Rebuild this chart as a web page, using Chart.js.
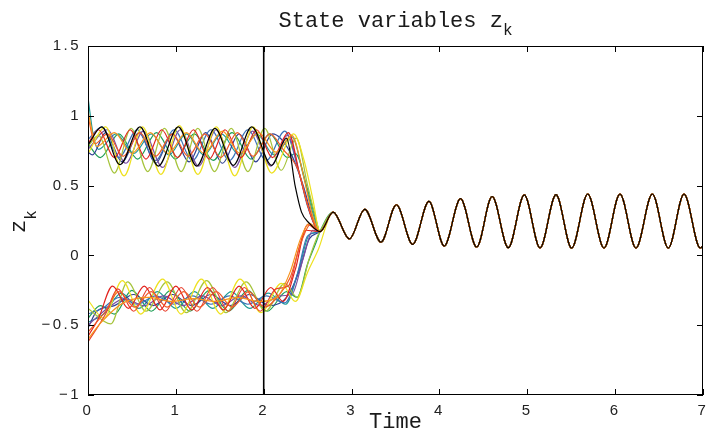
<!DOCTYPE html>
<html>
<head>
<meta charset="utf-8">
<script src="https://cdn.jsdelivr.net/npm/chart.js@4.4.1/dist/chart.umd.min.js"></script>
<style>
html,body{margin:0;padding:0;background:#fff}
</style>
</head>
<body>
<canvas id="myChart" width="706" height="436"></canvas>
<script>
// values, [time, z]
// common part once all the states have synchronised
var tailPts = [[2.79,0.31],[2.975,0.118],[3.15,0.33],[3.335,0.095],[3.51,0.363],[3.696,0.079],[3.88,0.387],[4.055,0.067],[4.24,0.406],[4.424,0.06],[4.6,0.422],[4.784,0.055],[4.966,0.433],[5.145,0.053],[5.327,0.435],[5.505,0.052],[5.688,0.44],[5.873,0.052],[6.055,0.44],[6.237,0.052],[6.423,0.44],[6.605,0.052],[6.784,0.44],[6.968,0.053],[7.0,0.07]]

// upper group
var zUpBlack = [[0,0.79],[0.156,0.92],[0.364,0.65],[0.592,0.92],[0.8,0.64],[1.028,0.92],[1.237,0.64],[1.445,0.91],[1.654,0.645],[1.863,0.92],[2.09,0.645],[2.26,0.84],[2.36,0.49],[2.43,0.31],[2.52,0.23],[2.64,0.17]]
var zUpPurple = [[0,0.76],[0.22,0.9],[0.43,0.66],[0.63,0.89],[0.85,0.63],[1.05,0.9],[1.26,0.64],[1.46,0.9],[1.67,0.63],[1.87,0.89],[2.08,0.64],[2.27,0.86],[2.42,0.55],[2.53,0.3],[2.64,0.17]]
var zUpNavy = [[0,0.74],[0.05,0.72],[0.2,0.88],[0.39,0.67],[0.58,0.88],[0.77,0.66],[0.96,0.87],[1.15,0.67],[1.34,0.88],[1.53,0.66],[1.72,0.87],[1.91,0.67],[2.1,0.87],[2.3,0.74],[2.45,0.5],[2.56,0.26],[2.64,0.17]]
var zUpRed = [[0,0.8],[0.12,0.9],[0.3,0.7],[0.48,0.9],[0.66,0.69],[0.84,0.9],[1.02,0.7],[1.2,0.9],[1.38,0.69],[1.56,0.9],[1.74,0.7],[1.92,0.9],[2.1,0.7],[2.28,0.88],[2.42,0.55],[2.53,0.3],[2.64,0.17]]
var zUpVermil = [[0,1.0],[0.08,0.8],[0.22,0.87],[0.4,0.71],[0.59,0.88],[0.77,0.71],[0.96,0.87],[1.14,0.71],[1.33,0.87],[1.51,0.7],[1.7,0.88],[1.88,0.71],[2.07,0.87],[2.22,0.76],[2.4,0.6],[2.5,0.36],[2.64,0.17]]
var zUpOrange = [[0,1.03],[0.1,0.78],[0.3,0.88],[0.5,0.73],[0.71,0.88],[0.91,0.73],[1.12,0.88],[1.32,0.73],[1.53,0.89],[1.73,0.73],[1.94,0.88],[2.14,0.74],[2.32,0.86],[2.45,0.58],[2.55,0.3],[2.64,0.17]]
var zUpYellow = [[0,0.73],[0.2,0.92],[0.41,0.57],[0.62,0.92],[0.83,0.58],[1.04,0.93],[1.25,0.58],[1.46,0.92],[1.67,0.57],[1.88,0.92],[2.09,0.59],[2.34,0.87],[2.46,0.68],[2.56,0.4],[2.64,0.17]]
var zUpLime = [[0,0.78],[0.12,0.86],[0.3,0.59],[0.49,0.91],[0.68,0.6],[0.87,0.91],[1.06,0.6],[1.25,0.91],[1.44,0.6],[1.63,0.91],[1.82,0.6],[2.01,0.91],[2.2,0.61],[2.37,0.84],[2.5,0.5],[2.58,0.3],[2.64,0.17]]
var zUpGreen = [[0,0.8],[0.14,0.7],[0.35,0.87],[0.565,0.69],[0.78,0.88],[0.995,0.69],[1.21,0.87],[1.425,0.68],[1.64,0.88],[1.855,0.69],[2.07,0.87],[2.27,0.7],[2.36,0.73],[2.5,0.47],[2.6,0.24],[2.64,0.17]]
var zUpTeal = [[0,1.13],[0.06,0.86],[0.12,0.76],[0.32,0.87],[0.52,0.73],[0.72,0.87],[0.92,0.72],[1.12,0.87],[1.32,0.72],[1.52,0.87],[1.72,0.72],[1.92,0.87],[2.12,0.72],[2.32,0.85],[2.46,0.55],[2.56,0.3],[2.64,0.17]]
var zUpBlue = [[0,0.83],[0.16,0.92],[0.35,0.7],[0.56,0.9],[0.77,0.68],[0.98,0.9],[1.19,0.68],[1.4,0.9],[1.61,0.68],[1.82,0.9],[2.03,0.68],[2.24,0.89],[2.4,0.6],[2.5,0.35],[2.64,0.17]]

// lower group
var zLowOrange = [[0,-0.6],[0.15,-0.48],[0.4,-0.34],[0.7,-0.3],[0.95,-0.33],[1.2,-0.31],[1.45,-0.33],[1.7,-0.3],[1.95,-0.33],[2.15,-0.3],[2.3,-0.12],[2.42,0.12],[2.52,0.23],[2.64,0.17]]
var zLowYellow = [[0,-0.32],[0.18,-0.45],[0.39,-0.18],[0.6,-0.42],[0.85,-0.17],[1.06,-0.42],[1.29,-0.17],[1.51,-0.42],[1.73,-0.17],[1.97,-0.41],[2.2,-0.2],[2.36,-0.33],[2.5,-0.12],[2.62,0.04]]
var zLowLime = [[0,-0.38],[0.26,-0.49],[0.45,-0.19],[0.66,-0.4],[0.9,-0.19],[1.12,-0.41],[1.35,-0.18],[1.57,-0.41],[1.8,-0.19],[2.02,-0.4],[2.24,-0.2],[2.38,-0.3],[2.52,-0.02],[2.6,0.12],[2.64,0.17]]
var zLowRed = [[0,-0.58],[0.12,-0.45],[0.28,-0.22],[0.46,-0.38],[0.64,-0.22],[0.82,-0.39],[1.0,-0.22],[1.18,-0.39],[1.36,-0.23],[1.54,-0.39],[1.72,-0.22],[1.9,-0.38],[2.08,-0.23],[2.22,-0.33],[2.36,-0.1],[2.48,0.18],[2.64,0.17]]
var zLowVermil = [[0,-0.55],[0.2,-0.4],[0.35,-0.26],[0.53,-0.37],[0.72,-0.26],[0.9,-0.37],[1.09,-0.26],[1.27,-0.37],[1.46,-0.26],[1.64,-0.37],[1.83,-0.26],[2.01,-0.37],[2.18,-0.28],[2.3,-0.16],[2.43,0.1],[2.53,0.22],[2.64,0.17]]
var zLowPurple = [[0,-0.5],[0.22,-0.38],[0.42,-0.31],[0.64,-0.36],[0.86,-0.29],[1.08,-0.36],[1.3,-0.29],[1.52,-0.36],[1.74,-0.29],[1.96,-0.36],[2.18,-0.29],[2.32,-0.28],[2.45,-0.02],[2.56,0.18],[2.64,0.17]]
var zLowNavy = [[0,-0.52],[0.1,-0.4],[0.3,-0.36],[0.52,-0.28],[0.74,-0.36],[0.96,-0.28],[1.18,-0.36],[1.4,-0.28],[1.62,-0.36],[1.84,-0.28],[2.06,-0.36],[2.26,-0.3],[2.4,-0.12],[2.52,0.12],[2.64,0.17]]
var zLowGreen = [[0,-0.45],[0.14,-0.36],[0.3,-0.42],[0.5,-0.25],[0.72,-0.4],[0.94,-0.25],[1.16,-0.4],[1.38,-0.25],[1.6,-0.4],[1.82,-0.25],[2.04,-0.4],[2.26,-0.26],[2.38,-0.3],[2.5,-0.06],[2.6,0.1],[2.64,0.17]]
var zLowTeal = [[0,-0.48],[0.18,-0.42],[0.38,-0.27],[0.58,-0.38],[0.79,-0.26],[1.0,-0.38],[1.21,-0.26],[1.42,-0.38],[1.63,-0.26],[1.84,-0.38],[2.05,-0.27],[2.25,-0.35],[2.4,-0.1],[2.52,0.15],[2.64,0.17]]
var zLowBlue = [[0,-0.42],[0.16,-0.38],[0.36,-0.3],[0.56,-0.35],[0.77,-0.29],[0.98,-0.35],[1.19,-0.29],[1.4,-0.35],[1.61,-0.29],[1.82,-0.35],[2.03,-0.29],[2.24,-0.34],[2.38,-0.14],[2.5,0.14],[2.64,0.17]]
var zLowRed2 = [[0,-0.62],[0.2,-0.42],[0.34,-0.24],[0.52,-0.4],[0.7,-0.23],[0.88,-0.4],[1.06,-0.23],[1.24,-0.4],[1.42,-0.23],[1.6,-0.4],[1.78,-0.23],[1.96,-0.4],[2.14,-0.24],[2.28,-0.22],[2.4,0.05],[2.5,0.22],[2.64,0.17]]

var switchTime = 2
var zRange = [-1, 1.5]

// drawing order: first one at the bottom
var series = [
    [zLowGreen,'#1e9f56'],[zLowTeal,'#1a9a95'],[zLowNavy,'#2f3f92'],[zLowBlue,'#3a73b8'],[zLowPurple,'#7b4fa2'],
    [zLowLime,'#a6c43c'],[zLowYellow,'#eee11f'],[zLowRed2,'#e8412e'],[zLowRed,'#e2211c'],[zLowVermil,'#f05a28'],[zLowOrange,'#f7941d'],
    [zUpGreen,'#1e9f56'],[zUpTeal,'#1a9a95'],[zUpNavy,'#2f3f92'],[zUpBlue,'#3a73b8'],[zUpPurple,'#7b4fa2'],
    [zUpLime,'#a6c43c'],[zUpYellow,'#eee11f'],[zUpRed,'#e2211c'],[zUpVermil,'#f05a28'],[zUpOrange,'#f7941d'],
    [zUpBlack,'#000000']
]

function toXY(arr){
    return arr.map(function(p){ return {x:p[0], y:p[1]} })
}

var datasets = []
for(var i=0;i<series.length;i++){
    datasets.push({
        data: toXY(series[i][0].concat(tailPts)),
        borderColor: series[i][1],
        borderWidth: 1.2,
        order: series.length - i + 1
    })
}
// vertical marker
datasets.push({
    data: toXY([[switchTime,zRange[0]],[switchTime,zRange[1]]]),
    borderColor: '#000',
    borderWidth: 1.6,
    cubicInterpolationMode: 'default',
    tension: 0,
    order: 0
})

var matlabAxes = {
    id: 'matlabAxes',
    beforeDraw: function(chart){ chart.ctx.letterSpacing = '2.5px' },
    beforeDatasetsDraw: function(chart){ chart.ctx.letterSpacing = '0px' },
    afterDraw: function(chart){
        var ctx = chart.ctx, a = chart.chartArea
        var xs = chart.scales.x, ys = chart.scales.y
        ctx.save()
        ctx.letterSpacing = '0px'
        ctx.strokeStyle = '#000'
        ctx.lineWidth = 1
        ctx.strokeRect(Math.round(a.left)+0.5, Math.round(a.top)+0.5, Math.round(a.right-a.left)-1, Math.round(a.bottom-a.top)-1)
        ctx.beginPath()
        xs.ticks.forEach(function(t){
            var px = Math.round(xs.getPixelForValue(t.value)) + 0.5
            ctx.moveTo(px, a.bottom); ctx.lineTo(px, a.bottom-6)
            ctx.moveTo(px, a.top); ctx.lineTo(px, a.top+6)
        })
        ys.ticks.forEach(function(t){
            var py = Math.round(ys.getPixelForValue(t.value)) + 0.5
            ctx.moveTo(a.left, py); ctx.lineTo(a.left+6, py)
            ctx.moveTo(a.right, py); ctx.lineTo(a.right-6, py)
        })
        ctx.stroke()

        // title
        ctx.fillStyle = '#1a1a1a'
        ctx.textBaseline = 'alphabetic'
        ctx.textAlign = 'left'
        var cx = (a.left + a.right)/2
        ctx.font = '22px "Liberation Mono"'
        var main = 'State variables z'
        var w1 = ctx.measureText(main).width
        ctx.font = '16px "Liberation Mono"'
        var w2 = ctx.measureText('k').width
        var x0 = cx - (w1 + w2)/2
        ctx.font = '22px "Liberation Mono"'
        ctx.fillText(main, x0, 27)
        ctx.font = '16px "Liberation Mono"'
        ctx.fillText('k', x0 + w1, 35)

        // x label
        ctx.font = '22px "Liberation Mono"'
        ctx.textAlign = 'center'
        ctx.fillText('Time', cx, 428)

        // y label
        ctx.translate(25, 233)
        ctx.rotate(-Math.PI/2)
        ctx.textAlign = 'left'
        ctx.font = '22px "Liberation Mono"'
        ctx.fillText('z', 0, 0)
        var wz = ctx.measureText('z').width
        ctx.font = '16px "Liberation Mono"'
        ctx.fillText('k', wz, 11)
        ctx.restore()
    }
}

var tickFont = {family: '"Liberation Sans", Arial, sans-serif', size: 15}

var ctx = document.getElementById("myChart").getContext('2d')
var LineChart = new Chart(ctx, {
    type: 'line',
    data: { datasets: datasets },
    options: {
        responsive: false,
        animation: false,
        layout: { padding: { top: 46, right: 3, left: 0, bottom: 0 } },
        elements: {
            point: { radius: 0 },
            line: { cubicInterpolationMode: 'monotone', fill: false }
        },
        plugins: {
            legend: { display: false },
            tooltip: { enabled: false },
            title: { display: false }
        },
        scales: {
            x: {
                type: 'linear', min: 0, max: 7,
                afterFit: function(s){ s.height = 41; s.paddingLeft = 0; s.paddingRight = 0 },
                ticks: { stepSize: 1, padding: 7, color: '#222', font: tickFont, maxRotation: 0 },
                grid: { display: false, drawTicks: false },
                border: { display: false }
            },
            y: {
                type: 'linear', min: zRange[0], max: zRange[1],
                afterFit: function(s){ s.width = 88 },
                ticks: {
                    stepSize: 0.5, padding: 7, color: '#222', font: tickFont,
                    callback: function(v){ return String(v).replace('-', '\u2212') }
                },
                grid: { display: false, drawTicks: false },
                border: { display: false }
            }
        }
    },
    plugins: [matlabAxes]
})
</script>
</body>
</html>
